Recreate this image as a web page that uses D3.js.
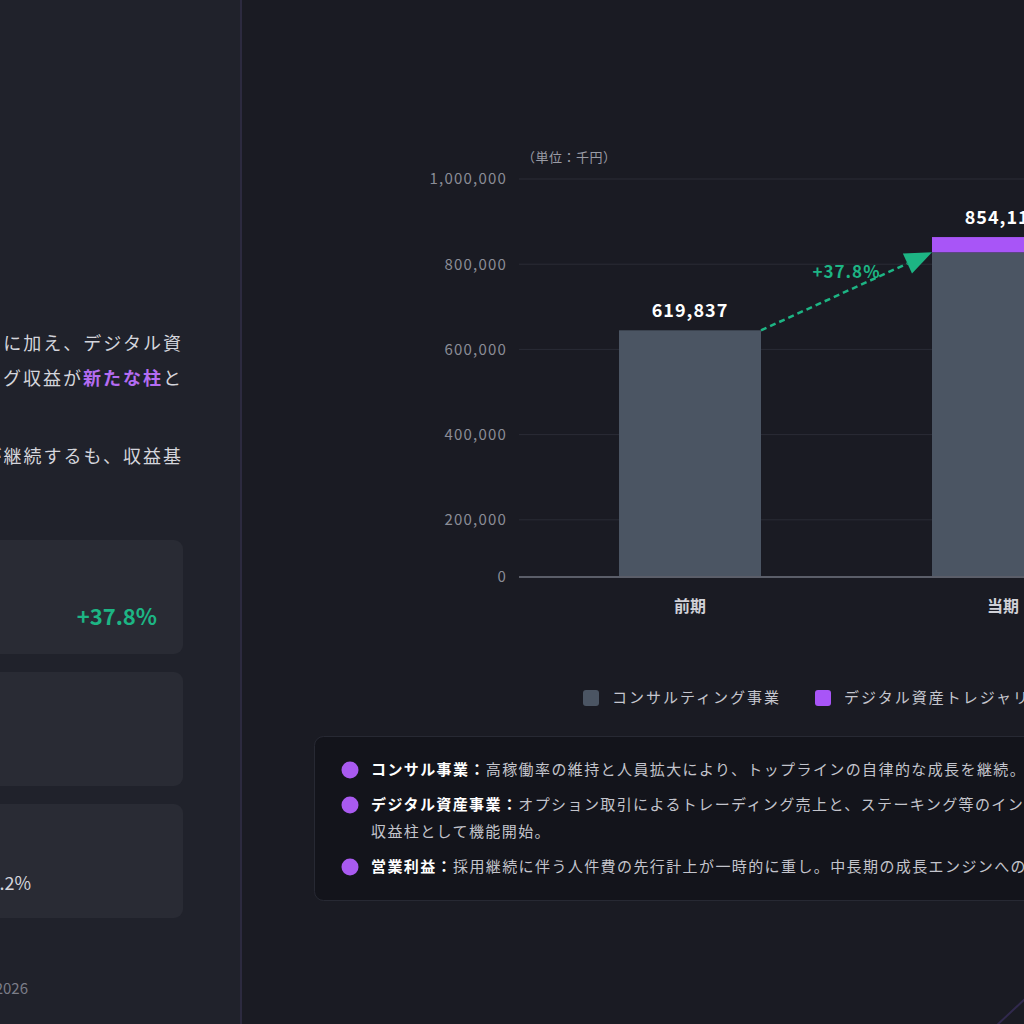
<!DOCTYPE html>
<html><head><meta charset="utf-8">
<script src="https://cdn.jsdelivr.net/npm/d3@7"></script>
<style>
html,body{margin:0;padding:0;background:#1a1b23;}
svg{display:block;font-family:"Noto Sans CJK JP","Noto Sans",sans-serif;}
</style></head>
<body>
<svg id="c" width="1024" height="1024"></svg>
<script>
// ---- data ----
const categories = ["前期", "当期"];
const consulting = [619837, 815800];
const digital = [0, 38317];
const totals = [619837, 854117];
const growthLabel = "+37.8%";
const yTicks = [0, 200000, 400000, 600000, 800000, 1000000];
const unitLabel = "（単位：千円）";
const legendLabels = ["コンサルティング事業", "デジタル資産トレジャリー事業"];
const notes = [
  {head: "コンサル事業：", lines: ["高稼働率の維持と人員拡大により、トップラインの自律的な成長を継続。"]},
  {head: "デジタル資産事業：", lines: ["オプション取引によるトレーディング売上と、ステーキング等のインカムゲインが新たな", "収益柱として機能開始。"]},
  {head: "営業利益：", lines: ["採用継続に伴う人件費の先行計上が一時的に重し。中長期の成長エンジンへの投資フェーズ。"]}
];
const leftParagraph = [
  {parts: [["既存のコンサルティング事業の成長　に加え、デジタル資", false]]},
  {parts: [["オプション取引やステーキング収益が", false], ["新たな柱", true], ["と", false]]},
  {parts: [["営業利益は先行投資により赤字が継続するも、収益基", false]]}
];
const kpiValues = ["+37.8%", "", "+4.2%"];

const COL_CONS = "#4b5563", COL_DIG = "#a855f7", COL_GREEN = "#1db584";

const svg = d3.select("#c");

// ---- backgrounds ----
svg.append("rect").attr("width",1024).attr("height",1024).attr("fill","#1a1b23");
svg.append("rect").attr("x",0).attr("y",0).attr("width",241).attr("height",1024).attr("fill","#20222b");
svg.append("rect").attr("x",240).attr("y",0).attr("width",2).attr("height",1024).attr("fill","#2c2a3f");

// decorative
svg.append("line").attr("x1",996).attr("y1",1026).attr("x2",1026).attr("y2",998)
  .attr("stroke","#3b3060").attr("stroke-width",2).attr("opacity",0.7);

// ---- left panel ----
svg.append("text").attr("x",-10).attr("y",173)
  .attr("fill","#ffffff").attr("font-size",26).attr("font-weight",700).text("、");

const paraY = [350, 385, 463];
leftParagraph.forEach((p,i)=>{
  const t = svg.append("text").attr("x",183).attr("y",paraY[i]).attr("text-anchor","end")
    .attr("font-size",18).attr("letter-spacing","2px").attr("fill","#d4d5dc");
  p.parts.forEach(([s,hi])=>{
    const ts = t.append("tspan").text(s);
    if(hi) ts.attr("fill","#b46cf2").attr("font-weight",700);
  });
});

const cardY = [540, 672, 804];
cardY.forEach((cy,i)=>{
  svg.append("rect").attr("x",-20).attr("y",cy).attr("width",203).attr("height",114)
    .attr("rx",9).attr("fill","#292b34");
});
svg.append("text").attr("x",157).attr("y",625).attr("text-anchor","end")
  .attr("fill",COL_GREEN).attr("font-size",22).attr("font-weight",700).text(kpiValues[0]);
svg.append("text").attr("x",31).attr("y",890).attr("text-anchor","end")
  .attr("fill","#d4d5dc").attr("font-size",18).text(kpiValues[2]);
svg.append("text").attr("x",28).attr("y",994).attr("text-anchor","end")
  .attr("fill","#7b7d88").attr("font-size",15).text("© 2026");

// ---- chart ----
const baseY = 577;
const yBar = d3.scaleLinear().domain([0,1000000]).range([baseY,179]);
const yGrid = d3.scaleLinear().domain([0,1000000]).range([605,179]);
const x = d3.scaleBand().domain(categories).range([519,1174]).paddingInner(0.5463).paddingOuter(0.3195);
const tickY = v => v===0 ? yBar(0) : yGrid(v);

const grid = svg.append("g");
yTicks.filter(v=>v>0).forEach(v=>{
  grid.append("line").attr("x1",519).attr("x2",1024).attr("y1",tickY(v)).attr("y2",tickY(v))
    .attr("stroke","#2a2c36").attr("stroke-width",1);
});
const fmt = d3.format(",");
yTicks.forEach(v=>{
  svg.append("text").attr("x",507).attr("y",tickY(v)).attr("dy","0.36em").attr("text-anchor","end")
    .attr("fill","#8b8d97").attr("font-size",15).attr("letter-spacing","1.2px").text(fmt(v));
});
svg.append("text").attr("x",522).attr("y",162).attr("fill","#9a9ca6").attr("font-size",13).attr("letter-spacing","0.5px").text(unitLabel);

// bars
categories.forEach((c,i)=>{
  svg.append("rect").attr("x",x(c)).attr("width",x.bandwidth())
    .attr("y",yBar(consulting[i])).attr("height",yBar(0)-yBar(consulting[i])).attr("fill",COL_CONS);
  if(digital[i]>0){
    svg.append("rect").attr("x",x(c)).attr("width",x.bandwidth())
      .attr("y",yBar(consulting[i]+digital[i])).attr("height",yBar(consulting[i])-yBar(consulting[i]+digital[i])).attr("fill",COL_DIG);
  }
  svg.append("text").attr("x",x(c)+x.bandwidth()/2).attr("y",yBar(totals[i])-13).attr("text-anchor","middle")
    .attr("fill","#ffffff").attr("font-size",18).attr("font-weight",700).attr("letter-spacing","1px").text(fmt(totals[i]));
  svg.append("text").attr("x",x(c)+x.bandwidth()/2).attr("y",yBar(0)+35).attr("text-anchor","middle")
    .attr("fill","#d0d1d8").attr("font-size",16).attr("font-weight",700).text(c);
});
// baseline
svg.append("line").attr("x1",519).attr("x2",1024).attr("y1",baseY).attr("y2",baseY)
  .attr("stroke","#5b5e69").attr("stroke-width",2);

// growth arrow
const x1 = x(categories[0])+x.bandwidth(), y1 = yBar(consulting[0]);
const x2 = x(categories[1]), y2 = yBar(consulting[1]);
const ang = Math.atan2(y2-y1, x2-x1);
const headL = 27, headW = 11;
const bx = x2 - headL*Math.cos(ang), by = y2 - headL*Math.sin(ang);
svg.append("line").attr("x1",x1).attr("y1",y1).attr("x2",bx).attr("y2",by)
  .attr("stroke",COL_GREEN).attr("stroke-width",2.5).attr("stroke-dasharray","6,4");
svg.append("path").attr("d",`M${x2},${y2} L${bx - headW*Math.sin(ang)},${by + headW*Math.cos(ang)} L${bx + headW*Math.sin(ang)},${by - headW*Math.cos(ang)} Z`)
  .attr("fill",COL_GREEN);
svg.append("text").attr("x",(x1+x2)/2).attr("y",(y1+y2)/2-13).attr("text-anchor","middle")
  .attr("fill",COL_GREEN).attr("font-size",17).attr("font-weight",700).attr("letter-spacing","1px").text(growthLabel);

// legend
const legX = [583, 815], legC = [COL_CONS, COL_DIG];
legendLabels.forEach((l,i)=>{
  svg.append("rect").attr("x",legX[i]).attr("y",690).attr("width",16).attr("height",16).attr("rx",3).attr("fill",legC[i]);
  svg.append("text").attr("x",legX[i]+29).attr("y",698).attr("dy","0.36em")
    .attr("fill","#c5c6ce").attr("font-size",15).attr("letter-spacing","2px").text(l);
});

// notes box
svg.append("rect").attr("x",314.5).attr("y",736.5).attr("width",760).attr("height",164).attr("rx",9)
  .attr("fill","#13141b").attr("stroke","#272933").attr("stroke-width",1);
const noteY = [[770],[805,832],[867]];
notes.forEach((n,i)=>{
  svg.append("circle").attr("cx",350).attr("cy",noteY[i][0]).attr("r",8.5).attr("fill","#a95af0");
  n.lines.forEach((ln,j)=>{
    const t = svg.append("text").attr("x",371).attr("y",noteY[i][j]).attr("dy","0.36em")
      .attr("font-size",15).attr("letter-spacing","1.4px").attr("fill","#c3c4cc");
    if(j===0) t.append("tspan").attr("fill","#ffffff").attr("font-weight",700).text(n.head);
    t.append("tspan").text(ln);
  });
});
</script>
</body></html>
